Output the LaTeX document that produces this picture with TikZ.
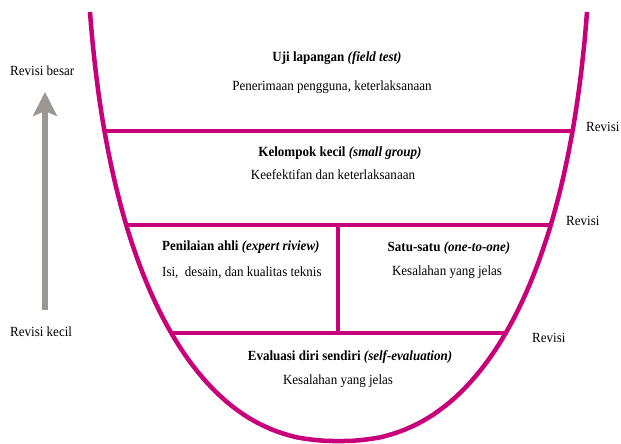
\documentclass[tikz,border=0pt]{standalone}
\usepackage{fontspec}
\setmainfont{Liberation Serif}[FakeStretch=0.93]
\usetikzlibrary{arrows.meta}
\definecolor{ucol}{RGB}{200,0,122}
\definecolor{arrgray}{RGB}{156,151,146}
\begin{document}
\begin{tikzpicture}[x=1pt,y=-1pt,
  uline/.style={draw=ucol,line width=4.5pt},
  lbl/.style={font=\fontsize{14}{16}\selectfont, anchor=base, inner sep=0pt},
  head/.style={lbl, font=\fontsize{14}{16}\selectfont\bfseries}]
\useasboundingbox (0,0) rectangle (621,444);
% end points of the dividers on the U
\coordinate (l1) at (104.5,131);
\coordinate (r1) at (572.5,131);
\coordinate (l2) at (126.3,225);
\coordinate (r2) at (550.7,225);
\coordinate (l3) at (171.3,333);
\coordinate (r3) at (505.7,333);
\coordinate (dtop) at (338,225);
\coordinate (dbot) at (338,333);
% U shape (superellipse-like)
\draw[uline, line join=round] plot[domain=12.21:167.79, samples=120, variable=\a]
  ({338.5-253.5*sign(cos(\a))*pow(abs(cos(\a)),0.8696)}, {-150+591*pow(sin(\a),0.8333)});
% dividers
\draw[uline] (l1) -- (r1);
\draw[uline] (l2) -- (r2);
\draw[uline] (l3) -- (r3);
\draw[uline] (dtop) -- (dbot);
% texts
\node[head] (h1) at (337,62) {Uji lapangan \textit{(field test)}};
\node[lbl] (t1) at (332,90) {Penerimaan pengguna, keterlaksanaan};
\node[head] (h2) at (340,156) {Kelompok kecil \textit{(small group)}};
\node[lbl] (t2) at (333,179) {Keefektifan dan keterlaksanaan};
\node[head, anchor=base west] (h3) at (162,250) {Penilaian ahli \textit{(expert riview)}};
\node[lbl, anchor=base west] (t3) at (162,276) {Isi,\ \ desain, dan kualitas teknis};
\node[head] (h4) at (449,251) {Satu-satu \textit{(one-to-one)}};
\node[lbl] (t4) at (447,275) {Kesalahan yang jelas};
\node[head] (h5) at (350,360) {Evaluasi diri sendiri \textit{(self-evaluation)}};
\node[lbl] (t5) at (338,384) {Kesalahan yang jelas};
\node[lbl, anchor=base west] (rv1) at (586,131) {Revisi};
\node[lbl, anchor=base west] (rv2) at (566,225) {Revisi};
\node[lbl, anchor=base west] (rv3) at (532,342) {Revisi};
\node[lbl, anchor=base west] (rb) at (10,75) {Revisi besar};
\node[lbl, anchor=base west] (rk) at (10,336) {Revisi kecil};
% arrow
\coordinate (abot) at (45,310);
\coordinate (atop) at (45,92);
\draw[arrgray, line width=5.5pt, -{Stealth[length=24pt,width=24pt,inset=5pt]}] (abot) -- (atop);
\end{tikzpicture}
\end{document}
